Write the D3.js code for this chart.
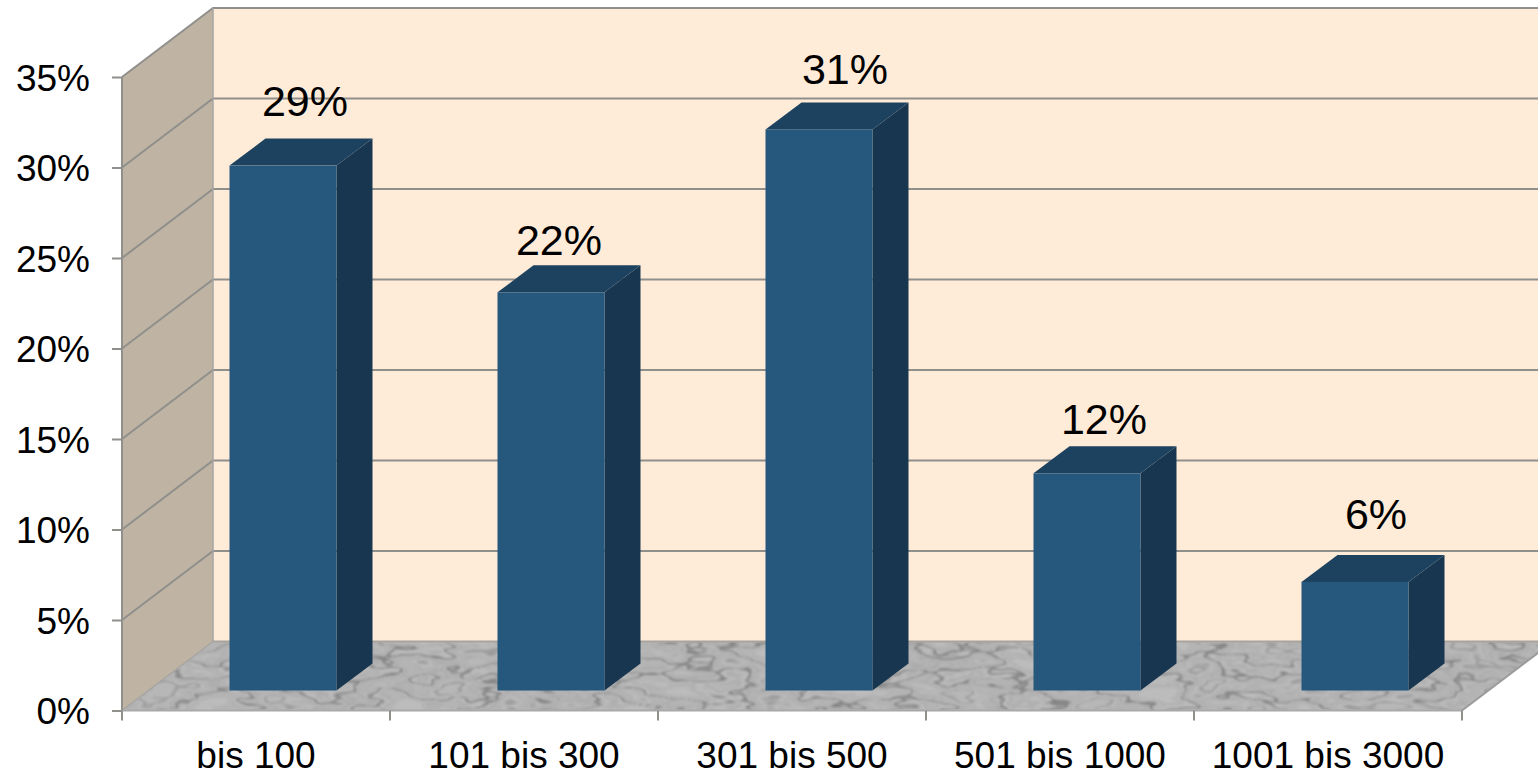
<!DOCTYPE html>
<html><head><meta charset="utf-8">
<style>html,body{margin:0;padding:0;background:#fff;overflow:hidden}svg{display:block}text{font-family:"Liberation Sans",Arial,sans-serif;fill:#000}</style>
<script src="https://cdn.jsdelivr.net/npm/d3@7"></script></head><body>
<script>
const categories = ["bis 100","101 bis 300","301 bis 500","501 bis 1000","1001 bis 3000"];
const values = [29,22,31,12,6];
const valueLabels = ["29%","22%","31%","12%","6%"];
const yTicks = [0,5,10,15,20,25,30,35];
const labelNudgeX = [4,-10,8,-1,3];
const labelNudgeY = [-23,-10,-18,-12,-26];

const W=1538,H=774;
const svg=d3.select("body").append("svg").attr("width",W).attr("height",H);
const x=d3.scaleBand().domain(categories).range([122,1462]);
const y=d3.scaleLinear().domain([0,35]).range([710.5,77]);
const depth={dx:91,dy:-69};
const barDepth={dx:36,dy:-27};
const barInset={dx:27,dy:-20};
const barW=107;
const gridColor="#8f8f8c";
const poly=p=>p.map(d=>d.join(",")).join(" ");
const defs=svg.append("defs");
const f=defs.append("filter").attr("id","marble").attr("x",0).attr("y",0).attr("width","100%").attr("height","100%").attr("color-interpolation-filters","sRGB");
f.append("feTurbulence").attr("type","fractalNoise").attr("baseFrequency","0.016 0.05").attr("numOctaves",3).attr("seed",7).attr("result","n");
f.append("feColorMatrix").attr("in","n").attr("type","matrix")
 .attr("values","2.2 0 0 0 -0.6  2.2 0 0 0 -0.6  2.2 0 0 0 -0.6  0 0 0 0 1").attr("result","s");
const ct=f.append("feComponentTransfer").attr("in","s");
const table="0.74 0.70 0.72 0.68 0.74 0.71 0.50 0.73 0.67 0.72 0.69 0.74 0.70 0.60 0.72";
["feFuncR","feFuncG","feFuncB"].forEach(n=>ct.append(n).attr("type","table").attr("tableValues",table));
f.append("feGaussianBlur").attr("stdDeviation","1.3 0.8");
const x0=x.range()[0],x1=x.range()[1],y0=y(0),y35=y(35);
const back=[[x0+depth.dx,y35+depth.dy],[W+20,y35+depth.dy],[W+20,y0+depth.dy],[x0+depth.dx,y0+depth.dy]];
const side=[[x0,y35],[x0+depth.dx,y35+depth.dy],[x0+depth.dx,y0+depth.dy],[x0,y0]];
const floor=[[x0,y0],[x0+depth.dx,y0+depth.dy],[x1+depth.dx,y0+depth.dy],[x1,y0]];
defs.append("clipPath").attr("id","floorClip").append("polygon").attr("points",poly(floor));
svg.append("polygon").attr("points",poly(back)).attr("fill","#feebd8");
svg.append("polygon").attr("points",poly(side)).attr("fill","#bfb4a3");
svg.append("g").attr("clip-path","url(#floorClip)").append("rect")
  .attr("x",x0).attr("y",y0+depth.dy).attr("width",x1+depth.dx-x0).attr("height",-depth.dy).attr("filter","url(#marble)");
// grid lines on walls
const grid=svg.append("g").attr("fill","none").attr("stroke",gridColor).attr("stroke-width",2);
yTicks.forEach(t=>{
  const yy=y(t);
  if(t>0) grid.append("polyline").attr("points",poly([[x0,yy],[x0+depth.dx,yy+depth.dy],[W+20,yy+depth.dy]]));
});
grid.append("polyline").attr("points",poly([[x0+depth.dx,y35+depth.dy],[x0+depth.dx,y0+depth.dy],[x0,y0]])).attr("stroke-width",1.5).attr("stroke","#a5a5a2");
grid.append("polyline").attr("points",poly([[x0+depth.dx,y0+depth.dy],[W+20,y0+depth.dy]])).attr("stroke","#a8a29c");
grid.append("line").attr("x1",x1).attr("y1",y0).attr("x2",x1+depth.dx).attr("y2",y0+depth.dy).attr("stroke","#9b9b9b");
// axes
const yAxis=d3.axisLeft(y).tickValues(yTicks).tickFormat(d=>d+"%").tickSize(10).tickPadding(22);
const gy=svg.append("g").attr("transform",`translate(${x0},0)`).call(yAxis);
const xAxis=d3.axisBottom(x).tickSize(0).tickPadding(38);
const gx=svg.append("g").attr("transform",`translate(0,${y0})`).call(xAxis);
[gy,gx].forEach(g=>{g.selectAll("path,line").attr("stroke",gridColor).attr("stroke-width",2);g.selectAll("text").attr("font-size",37).attr("font-family","Liberation Sans").attr("fill","#000");});
gy.select(".domain").attr("d",`M0,${y0}V${y35}`);
gx.select(".domain").attr("d",`M${x0},0H${x1}`).attr("stroke","#a8a8a8");
gx.selectAll("text").attr("dy",0).attr("y",57);
gy.selectAll("text").attr("dy","0.36em");
const edges=categories.map(c=>x(c)).concat([x1]);
svg.append("g").selectAll("line").data(edges).join("line")
  .attr("x1",d=>d).attr("x2",d=>d).attr("y1",y0).attr("y2",y0+10).attr("stroke",gridColor).attr("stroke-width",2);
// bars
const bars=svg.append("g").selectAll("g").data(values).join("g");
const fx=(d,i)=>x(categories[i])+x.bandwidth()/2-barW/2+barInset.dx;
bars.append("polygon").attr("fill","#18364f").attr("points",(d,i)=>{
  const r=fx(d,i)+barW,t=y(d)+barInset.dy,b=y0+barInset.dy;
  return poly([[r,t],[r+barDepth.dx,t+barDepth.dy],[r+barDepth.dx,b+barDepth.dy],[r,b]]);});
bars.append("polygon").attr("fill","#1d425f").attr("points",(d,i)=>{
  const l=fx(d,i),t=y(d)+barInset.dy;
  return poly([[l,t],[l+barDepth.dx,t+barDepth.dy],[l+barW+barDepth.dx,t+barDepth.dy],[l+barW,t]]);});
bars.append("rect").attr("fill","#26577d").attr("x",fx).attr("width",barW)
  .attr("y",d=>y(d)+barInset.dy).attr("height",d=>y(0)-y(d));
bars.append("text").attr("text-anchor","middle").attr("font-size",43)
  .attr("x",(d,i)=>fx(d,i)+(barW+barDepth.dx)/2+labelNudgeX[i])
  .attr("y",(d,i)=>y(d)+barInset.dy+barDepth.dy+labelNudgeY[i])
  .text((d,i)=>valueLabels[i]);
</script></body></html>
